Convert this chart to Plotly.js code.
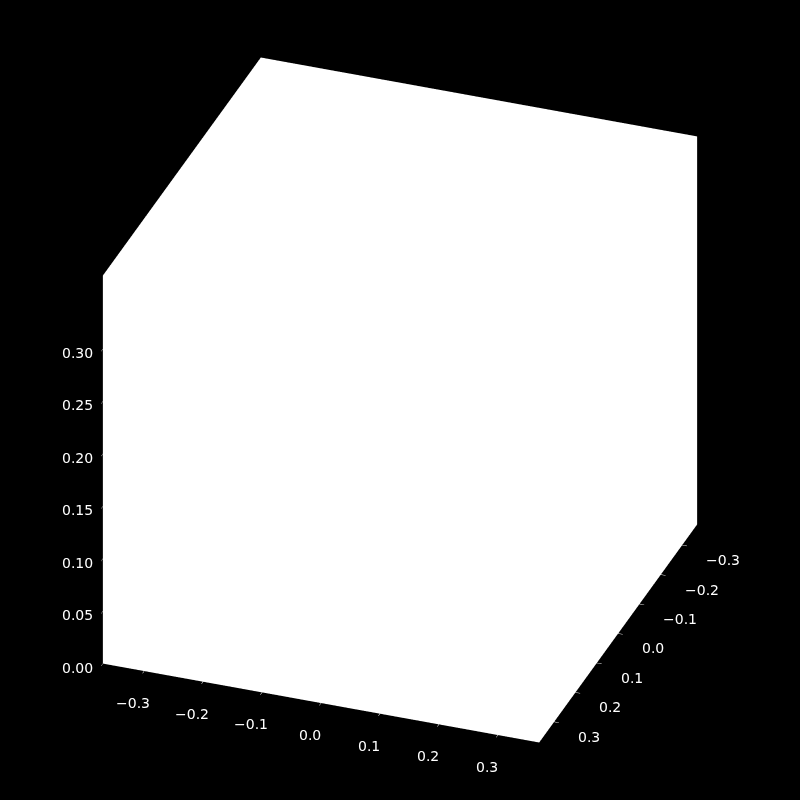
<!DOCTYPE html>
<html>
<head>
<meta charset="utf-8">
<script src="https://cdn.plot.ly/plotly-3.0.1.min.js"></script>
<style>
  html, body { margin: 0; padding: 0; background: #000; }
  #chart { width: 800px; height: 800px; }
</style>
</head>
<body>
<div id="chart"></div>
<script>
// corner samples of the (white on white) data volume
var xs = [-0.37, 0.37, -0.37, 0.37];
var ys = [-0.37, -0.37, 0.37, 0.37];
var zs = [0.0, 0.37, 0.37, 0.0];

var xTicks = [-0.3, -0.2, -0.1, 0.0, 0.1, 0.2, 0.3];
var yTicks = [-0.3, -0.2, -0.1, 0.0, 0.1, 0.2, 0.3];
var zTicks = [0.0, 0.05, 0.10, 0.15, 0.20, 0.25, 0.30];

var xRange = [-0.37, 0.37];
var yRange = [0.37, -0.37]; // y runs towards the viewer
var zRange = [0, 0.37];

function fmt(v, d) { return v.toFixed(d).replace('-', '\u2212'); }

var trace0 = {
    x: xs,
    y: ys,
    z: zs,
    type: 'scatter3d',
    mode: 'markers',
    marker: {size: 1, color: 'rgba(255,255,255,0)'},
    hoverinfo: 'skip',
    showlegend: false
};

function axis(ticks, range) {
    return {
        title: {text: ''},
        range: range,
        tickvals: ticks,
        showticklabels: false,
        showbackground: true,
        backgroundcolor: '#ffffff',
        showgrid: false,
        zeroline: false,
        showline: false,
        showspikes: false,
        ticks: 'outside',
        ticklen: 5,
        tickcolor: '#ffffff'
    };
}

// tick labels as scene annotations, nudged off the white panes
var labelFont = {family: 'DejaVu Sans', size: 14, color: '#ffffff'};
function label(x, y, z, text, xanchor, dx, dy) {
    return {x: x, y: y, z: z, text: text, showarrow: false,
            xanchor: xanchor, yanchor: 'middle',
            xshift: dx, yshift: dy, font: labelFont};
}
var tickLabels = []
    .concat(xTicks.map(function (v) { return label(v, yRange[0], zRange[0], fmt(v, 1), 'center', -11, -32); }))
    .concat(yTicks.map(function (v) { return label(xRange[1], v, zRange[0], fmt(v, 1), 'left', 22, -15); }))
    .concat(zTicks.map(function (v) { return label(xRange[0], yRange[0], v, fmt(v, 2), 'right', -8, -4); }));

var layout = {
    paper_bgcolor: '#000000',
    margin: {t: 0, r: 0, l: 0, b: 0},
    scene: {
        bgcolor: '#000000',
        domain: {x: [0, 1], y: [0, 1]},
        xaxis: axis(xTicks, xRange),
        yaxis: axis(yTicks, yRange),
        zaxis: axis(zTicks, zRange),
        aspectmode: 'manual',
        aspectratio: {x: 1.16, y: 1.16, z: 1.12},
        camera: {
            eye: {x: 0.59, y: -1.63, z: 1.0},
            projection: {type: 'orthographic'}
        },
        annotations: tickLabels
    }
};

Plotly.newPlot('chart', [trace0], layout, {displayModeBar: false});
</script>
</body>
</html>
